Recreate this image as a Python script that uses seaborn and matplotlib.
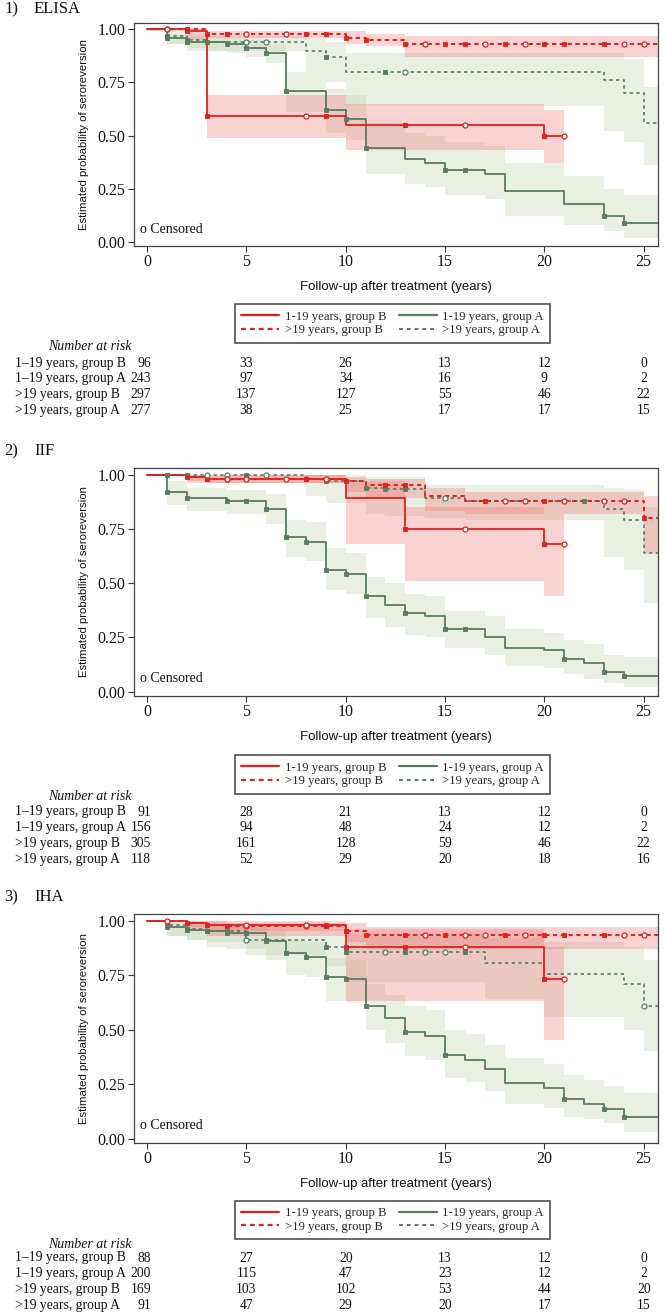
import numpy as np
import pandas as pd
import matplotlib
matplotlib.use("Agg")
import matplotlib.pyplot as plt
import matplotlib.transforms as mtrans
from matplotlib.lines import Line2D
import seaborn as sns

sns.set_theme(style="white")
plt.rcParams['font.family'] = ['Liberation Serif', 'DejaVu Serif']

# ---------------- data ----------------
panel_titles = ["ELISA", "IIF", "IHA"]
panel_nums = ["1)", "2)", "3)"]
series_labels = ["1-19 years, group B", ">19 years, group B",
                 "1-19 years, group A", ">19 years, group A"]
risk_labels = ["1\u201319 years, group B", "1\u201319 years, group A",
               ">19 years, group B", ">19 years, group A"]
risk_times = [0, 5, 10, 15, 20, 25]
x_ticks = [0, 5, 10, 15, 20, 25]
y_ticks = [0.00, 0.25, 0.50, 0.75, 1.00]
y_ticklabels = ["0.00", "0.25", "0.50", "0.75", "1.00"]

# ELISA
e_rs_t = [0, 2, 3, 10, 20]
e_rs_s = [1.00, 0.99, 0.59, 0.55, 0.50]
e_rs_lo = [1.00, 0.95, 0.49, 0.43, 0.37]
e_rs_hi = [1.00, 1.00, 0.69, 0.65, 0.62]
e_rs_sq = [2, 3, 9, 13, 20]
e_rs_ci = [1, 8, 16, 21]

e_ga_t = [0, 1, 2, 4, 5, 6, 7, 9, 10, 11, 13, 14, 15, 17, 18, 21, 23, 24]
e_ga_s = [1.00, 0.96, 0.94, 0.93, 0.91, 0.89, 0.71, 0.62, 0.58, 0.44, 0.39, 0.37, 0.34, 0.32, 0.24, 0.18, 0.12, 0.09]
e_ga_lo = [1.00, 0.93, 0.90, 0.89, 0.87, 0.84, 0.61, 0.51, 0.48, 0.32, 0.27, 0.26, 0.22, 0.20, 0.12, 0.08, 0.05, 0.02]
e_ga_hi = [1.00, 0.98, 0.97, 0.96, 0.95, 0.93, 0.80, 0.72, 0.69, 0.56, 0.51, 0.50, 0.47, 0.45, 0.37, 0.31, 0.25, 0.22]
e_ga_sq = [1, 2, 4, 5, 6, 7, 9, 10, 11, 15, 16, 23, 24]
e_ga_ci = []

e_rd_t = [0, 3, 10, 11, 13]
e_rd_s = [1.00, 0.98, 0.96, 0.95, 0.93]
e_rd_lo = [0.99, 0.96, 0.93, 0.92, 0.87]
e_rd_hi = [1.00, 0.99, 0.99, 0.98, 0.97]
e_rd_sq = [2, 3, 4, 8, 9, 10, 11, 13, 15, 16, 18, 20, 21, 23]
e_rd_ci = [1, 5, 7, 14, 17, 19, 24, 25]

e_gd_t = [0, 1, 2, 3, 8, 9, 10, 23, 24, 25]
e_gd_s = [1.00, 0.97, 0.95, 0.94, 0.90, 0.87, 0.80, 0.76, 0.70, 0.56]
e_gd_lo = [1.00, 0.93, 0.91, 0.90, 0.80, 0.75, 0.64, 0.52, 0.47, 0.36]
e_gd_hi = [1.00, 0.99, 0.98, 0.97, 0.96, 0.94, 0.89, 0.89, 0.86, 0.73]
e_gd_sq = [1, 2, 3, 9, 12]
e_gd_ci = [5, 6, 13]

# IIF
f_rs_t = [0, 2, 3, 10, 13, 20]
f_rs_s = [1.00, 0.99, 0.98, 0.89, 0.75, 0.68]
f_rs_lo = [1.00, 0.96, 0.96, 0.68, 0.51, 0.44]
f_rs_hi = [1.00, 1.00, 1.00, 0.97, 0.85, 0.82]
f_rs_sq = [2, 3, 8, 13, 20]
f_rs_ci = [4, 16, 21]

f_ga_t = [0, 1, 2, 4, 6, 7, 8, 9, 10, 11, 12, 13, 14, 15, 17, 18, 20, 21, 22, 23, 24]
f_ga_s = [1.00, 0.92, 0.89, 0.88, 0.84, 0.71, 0.69, 0.56, 0.54, 0.44, 0.40, 0.36, 0.35, 0.29, 0.25, 0.20, 0.19, 0.15, 0.13, 0.09, 0.07]
f_ga_lo = [1.00, 0.86, 0.83, 0.82, 0.77, 0.62, 0.60, 0.47, 0.45, 0.34, 0.30, 0.26, 0.25, 0.20, 0.17, 0.12, 0.11, 0.08, 0.06, 0.04, 0.02]
f_ga_hi = [1.00, 0.97, 0.94, 0.93, 0.91, 0.79, 0.78, 0.66, 0.64, 0.53, 0.50, 0.45, 0.44, 0.37, 0.35, 0.29, 0.27, 0.24, 0.22, 0.17, 0.16]
f_ga_sq = [1, 2, 4, 5, 6, 7, 8, 9, 10, 11, 13, 15, 16, 21, 23, 24]
f_ga_ci = []

f_rd_t = [0, 2, 3, 10, 11, 14, 16, 25]
f_rd_s = [1.00, 0.99, 0.98, 0.97, 0.95, 0.90, 0.88, 0.80]
f_rd_lo = [1.00, 0.97, 0.96, 0.92, 0.89, 0.83, 0.82, 0.64]
f_rd_hi = [1.00, 1.00, 1.00, 0.99, 0.98, 0.94, 0.92, 0.90]
f_rd_sq = [3, 8, 10, 12, 13, 17, 20, 25]
f_rd_ci = [4, 5, 7, 9, 18, 19, 21, 23, 24]

f_gd_t = [0, 8, 9, 11, 12, 14, 16, 23, 24, 25]
f_gd_s = [1.00, 0.98, 0.97, 0.94, 0.935, 0.89, 0.88, 0.84, 0.79, 0.64]
f_gd_lo = [1.00, 0.90, 0.87, 0.82, 0.81, 0.80, 0.79, 0.62, 0.56, 0.41]
f_gd_hi = [1.00, 1.00, 1.00, 0.99, 0.99, 0.95, 0.95, 0.94, 0.93, 0.85]
f_gd_sq = [1, 2, 5, 9, 11, 12, 13, 22]
f_gd_ci = [3, 4, 6, 15]

# IHA
h_rs_t = [0, 2, 3, 10, 20]
h_rs_s = [1.00, 0.99, 0.98, 0.88, 0.73]
h_rs_lo = [1.00, 0.95, 0.93, 0.63, 0.45]
h_rs_hi = [1.00, 1.00, 1.00, 0.96, 0.88]
h_rs_sq = [2, 3, 9, 10, 13, 20]
h_rs_ci = [1, 5, 8, 16, 21]

h_ga_t = [0, 1, 2, 3, 4, 6, 7, 8, 9, 10, 11, 12, 13, 14, 15, 16, 17, 18, 20, 21, 22, 23, 24]
h_ga_s = [1.00, 0.97, 0.955, 0.95, 0.945, 0.905, 0.85, 0.835, 0.74, 0.73, 0.61, 0.555, 0.49, 0.47, 0.385, 0.36, 0.32, 0.255, 0.23, 0.18, 0.16, 0.135, 0.10]
h_ga_lo = [1.00, 0.93, 0.91, 0.88, 0.87, 0.82, 0.75, 0.74, 0.63, 0.62, 0.50, 0.44, 0.38, 0.36, 0.28, 0.26, 0.22, 0.16, 0.14, 0.10, 0.09, 0.07, 0.03]
h_ga_hi = [1.00, 0.99, 0.98, 0.98, 0.97, 0.95, 0.91, 0.90, 0.83, 0.82, 0.71, 0.66, 0.61, 0.59, 0.50, 0.48, 0.43, 0.37, 0.34, 0.29, 0.27, 0.24, 0.21]
h_ga_sq = [1, 2, 3, 4, 5, 6, 7, 8, 9, 10, 11, 13, 15, 21, 23, 24]
h_ga_ci = []

h_rd_t = [0, 2, 3, 4, 10, 11]
h_rd_s = [1.00, 0.99, 0.98, 0.975, 0.95, 0.935]
h_rd_lo = [1.00, 0.97, 0.95, 0.95, 0.90, 0.87]
h_rd_hi = [1.00, 1.00, 1.00, 0.99, 0.99, 0.97]
h_rd_sq = [4, 9, 10, 11, 13, 15, 18, 20, 21, 23]
h_rd_ci = [5, 8, 14, 16, 17, 19, 24, 25]

h_gd_t = [0, 1, 2, 3, 5, 9, 10, 17, 20, 24, 25]
h_gd_s = [1.00, 0.98, 0.96, 0.95, 0.91, 0.88, 0.855, 0.805, 0.755, 0.71, 0.61]
h_gd_lo = [1.00, 0.93, 0.91, 0.90, 0.84, 0.79, 0.72, 0.64, 0.56, 0.50, 0.40]
h_gd_hi = [1.00, 1.00, 0.99, 0.99, 0.97, 0.96, 0.94, 0.92, 0.90, 0.88, 0.82]
h_gd_sq = [1, 2, 3, 4, 6, 9, 10, 13, 16]
h_gd_ci = [5, 12, 14, 15, 25]

risk_elisa = [[96, 33, 26, 13, 12, 0], [243, 97, 34, 16, 9, 2],
              [297, 137, 127, 55, 46, 22], [277, 38, 25, 17, 17, 15]]
risk_iif = [[91, 28, 21, 13, 12, 0], [156, 94, 48, 24, 12, 2],
            [305, 161, 128, 59, 46, 22], [118, 52, 29, 20, 18, 16]]
risk_iha = [[88, 27, 20, 13, 12, 0], [200, 115, 47, 23, 12, 2],
            [169, 103, 102, 53, 44, 20], [91, 47, 29, 20, 17, 15]]

XMAX = 25.72
end_rs = [21, 21, 21]

panels = [
    dict(rs=(e_rs_t, e_rs_s, e_rs_lo, e_rs_hi, e_rs_sq, e_rs_ci),
         ga=(e_ga_t, e_ga_s, e_ga_lo, e_ga_hi, e_ga_sq, e_ga_ci),
         rd=(e_rd_t, e_rd_s, e_rd_lo, e_rd_hi, e_rd_sq, e_rd_ci),
         gd=(e_gd_t, e_gd_s, e_gd_lo, e_gd_hi, e_gd_sq, e_gd_ci),
         risk=risk_elisa),
    dict(rs=(f_rs_t, f_rs_s, f_rs_lo, f_rs_hi, f_rs_sq, f_rs_ci),
         ga=(f_ga_t, f_ga_s, f_ga_lo, f_ga_hi, f_ga_sq, f_ga_ci),
         rd=(f_rd_t, f_rd_s, f_rd_lo, f_rd_hi, f_rd_sq, f_rd_ci),
         gd=(f_gd_t, f_gd_s, f_gd_lo, f_gd_hi, f_gd_sq, f_gd_ci),
         risk=risk_iif),
    dict(rs=(h_rs_t, h_rs_s, h_rs_lo, h_rs_hi, h_rs_sq, h_rs_ci),
         ga=(h_ga_t, h_ga_s, h_ga_lo, h_ga_hi, h_ga_sq, h_ga_ci),
         rd=(h_rd_t, h_rd_s, h_rd_lo, h_rd_hi, h_rd_sq, h_rd_ci),
         gd=(h_gd_t, h_gd_s, h_gd_lo, h_gd_hi, h_gd_sq, h_gd_ci),
         risk=risk_iha),
]

# ---------------- style ----------------
RED = "#e3201b"
GREEN = "#587b62"
RED_FILL = "#f26d6d"
GREEN_FILL = "#b9cda5"
styles = {
    "rs": dict(color=RED, ls="-", lw=1.3, fill=RED_FILL, falpha=0.30),
    "rd": dict(color=RED, ls=(0, (2.2, 1.8)), lw=1.4, fill=RED_FILL, falpha=0.30),
    "ga": dict(color=GREEN, ls="-", lw=1.3, fill=GREEN_FILL, falpha=0.30),
    "gd": dict(color=GREEN, ls=(0, (2.0, 2.0)), lw=1.2, fill=GREEN_FILL, falpha=0.30),
}

W, H = 666, 1314
fig = plt.figure(figsize=(W / 100, H / 100), dpi=100)

def fy(py):
    return 1 - py / H

ax_left, ax_right = 134, 658
panel_px = [(23, 246), (468, 696), (914, 1143)]
title_y = [9, 451, 897]
legend_y = [(305, 342), (756, 793), (1202, 1238)]
nar_y = [346, 796, 1244]
row_y0 = [363, 812, 1258]
row_dy = 15.8


def draw_curve(ax, key, data, end):
    t, s, lo, hi, sq, ci = data
    st = styles[key]
    xs = list(t) + [end]
    ys = list(s) + [s[-1]]
    los = list(lo) + [lo[-1]]
    his = list(hi) + [hi[-1]]
    ax.fill_between(xs, los, his, step="post", color=st["fill"],
                    alpha=st["falpha"], lw=0, zorder=1)
    df = pd.DataFrame({"x": xs, "y": ys})
    sns.lineplot(data=df, x="x", y="y", ax=ax, drawstyle="steps-post",
                 estimator=None, sort=False, color=st["color"],
                 linestyle=st["ls"], lw=st["lw"], legend=False, zorder=3)
    tarr = np.array(t, dtype=float)
    sarr = np.array(s, dtype=float)
    if len(sq):
        sqx = np.array(sq, dtype=float)
        sqy = sarr[np.searchsorted(tarr, sqx, side="right") - 1]
        sns.scatterplot(x=sqx, y=sqy, ax=ax, marker="s", s=12,
                        color=st["color"], edgecolor=st["color"],
                        linewidth=0.6, legend=False, zorder=4)
    if len(ci):
        cx = np.array(ci, dtype=float)
        cy = sarr[np.searchsorted(tarr, cx, side="right") - 1]
        sns.scatterplot(x=cx, y=cy, ax=ax, marker="o", s=13,
                        facecolor="white", edgecolor=st["color"],
                        linewidth=0.9, legend=False, zorder=5)


for i, p in enumerate(panels):
    top, bot = panel_px[i]
    ax = fig.add_axes([ax_left / W, fy(bot), (ax_right - ax_left) / W,
                       (bot - top) / H])
    draw_curve(ax, "gd", p["gd"], XMAX)
    draw_curve(ax, "ga", p["ga"], XMAX)
    draw_curve(ax, "rd", p["rd"], XMAX)
    draw_curve(ax, "rs", p["rs"], end_rs[i])

    ax.set_xlim(-0.66, XMAX)
    ax.set_ylim(-0.02, 1.03)
    ax.set_xticks(x_ticks)
    ax.set_xticklabels([str(v) for v in x_ticks])
    ax.set_yticks(y_ticks)
    ax.set_yticklabels(y_ticklabels)
    ax.tick_params(axis="both", which="both", direction="out", length=4,
                   width=0.8, color="#333333", labelsize=11.5,
                   labelcolor="#111111", bottom=True, left=True, pad=2)
    for sp in ax.spines.values():
        sp.set_color("#444444")
        sp.set_linewidth(0.9)
        sp.set_visible(True)
    ax.set_xlabel("Follow-up after treatment (years)",
                  family=["Liberation Sans Narrow", "Liberation Sans", "DejaVu Sans"],
                  fontsize=9.5, labelpad=8, color="#111111")
    ax.set_ylabel("Estimated probability of seroreversion",
                  family=["Liberation Sans", "DejaVu Sans"], fontsize=8.2,
                  labelpad=6, color="#111111")
    ax.grid(False)
    ax.text(0.012, 0.075, "o Censored", transform=ax.transAxes, fontsize=10,
            va="center", ha="left", color="#111111")

    # panel title
    fig.text(4 / W, fy(title_y[i]), panel_nums[i], fontsize=12, va="center",
             ha="left", color="#111111")
    fig.text(34 / W, fy(title_y[i]), panel_titles[i], fontsize=12,
             va="center", ha="left", color="#111111")

    # legend
    handles = [
        Line2D([], [], color=RED, ls="-", lw=1.6),
        Line2D([], [], color=RED, ls=(0, (2.2, 1.8)), lw=1.6),
        Line2D([], [], color=GREEN, ls="-", lw=1.6),
        Line2D([], [], color=GREEN, ls=(0, (2.0, 2.0)), lw=1.4),
    ]
    ly0, ly1 = legend_y[i]
    leg = fig.legend(handles, series_labels, ncol=2,
                     loc="center", bbox_to_anchor=(392.5 / W, fy((ly0 + ly1) / 2)),
                     frameon=True, fontsize=9.2, handlelength=3.0,
                     handletextpad=0.4, columnspacing=1.0, labelspacing=0.12,
                     borderpad=0.5, borderaxespad=0, fancybox=False)
    leg.get_frame().set_edgecolor("#111111")
    leg.get_frame().set_linewidth(1.1)

    # number at risk
    fig.text(90 / W, fy(nar_y[i]), "Number at risk", fontsize=10,
             style="italic", ha="center", va="center", color="#111111")
    trans = mtrans.blended_transform_factory(ax.transData, fig.transFigure)
    for r, lab in enumerate(risk_labels):
        yy = fy(row_y0[i] + r * row_dy)
        fig.text(15 / W, yy, lab, fontsize=9.8, ha="left", va="center",
                 color="#111111")
        vals = p["risk"][r]
        fig.text(151 / W, yy, str(vals[0]), fontsize=9.8, ha="right",
                 va="center", color="#111111")
        for tt, v in zip(risk_times[1:], vals[1:]):
            ax.text(tt, yy, str(v), transform=trans, fontsize=9.8,
                    ha="center", va="center", color="#111111", clip_on=False)

fig.savefig("out.png", dpi=100, facecolor="white")
